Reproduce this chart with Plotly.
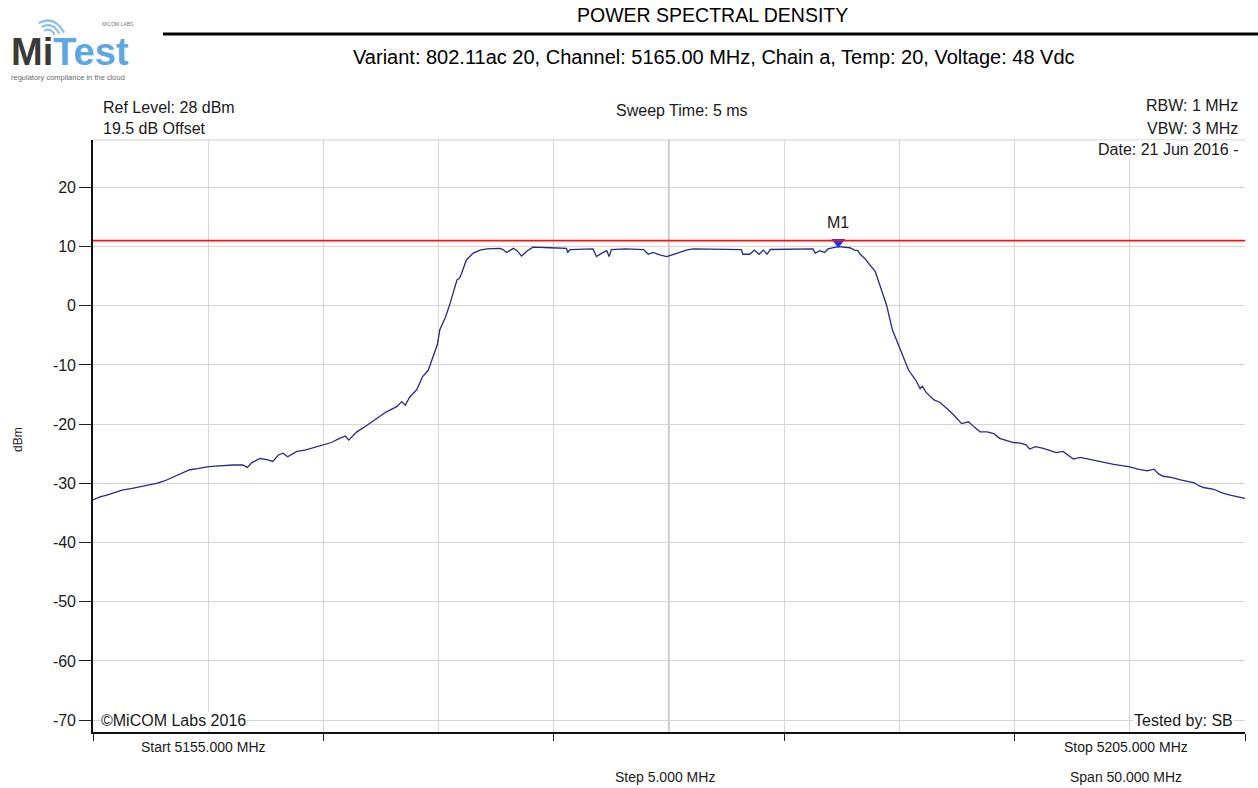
import plotly.graph_objects as go

# Spectrum analyser sweep: frequency (MHz) and measured level (dBm)
freq_mhz = [
    5155.0, 5155.3, 5155.6, 5155.95, 5156.3, 5156.65, 5157.05, 5157.4, 5157.75, 5158.1,
    5158.5, 5158.85, 5159.2, 5159.55, 5159.95, 5160.3, 5160.65, 5161.1, 5161.5, 5161.7,
    5161.9, 5162.25, 5162.55, 5162.8, 5163.05, 5163.25, 5163.45, 5163.65, 5163.85, 5164.2,
    5164.55, 5165.0, 5165.35, 5165.7, 5165.95, 5166.1, 5166.45, 5166.85, 5167.3, 5167.7,
    5168.2, 5168.4, 5168.55, 5168.75, 5169.05, 5169.3, 5169.55, 5169.75, 5169.95, 5170.05,
    5170.3, 5170.5, 5170.65, 5170.8, 5170.9, 5171.0, 5171.2, 5171.5, 5171.8, 5172.1,
    5172.65, 5172.8, 5172.95, 5173.1, 5173.25, 5173.4, 5173.6, 5173.85, 5174.1, 5174.85,
    5175.55, 5175.6, 5175.7, 5176.7, 5176.85, 5177.05, 5177.3, 5177.4, 5177.5, 5178.1,
    5178.9, 5179.1, 5179.3, 5179.6, 5179.9, 5180.2, 5180.5, 5180.75, 5181.05, 5182.2,
    5183.15, 5183.2, 5183.5, 5183.7, 5183.9, 5184.1, 5184.25, 5184.4, 5185.25, 5186.25,
    5186.35, 5186.55, 5186.75, 5186.9, 5187.35, 5187.65, 5187.85, 5188.05, 5188.2, 5188.3,
    5188.5, 5188.7, 5188.95, 5189.15, 5189.45, 5189.7, 5190.05, 5190.25, 5190.4, 5190.7,
    5190.9, 5191.0, 5191.15, 5191.5, 5191.75, 5192.05, 5192.35, 5192.7, 5193.0, 5193.25,
    5193.5, 5193.8, 5194.1, 5194.35, 5194.6, 5194.95, 5195.25, 5195.5, 5195.65, 5195.9,
    5196.25, 5196.55, 5196.8, 5197.1, 5197.3, 5197.55, 5197.85, 5198.2, 5198.55, 5198.95,
    5199.3, 5199.65, 5200.0, 5200.35, 5200.75, 5201.05, 5201.25, 5201.45, 5201.8, 5202.2,
    5202.5, 5202.8, 5203.0, 5203.2, 5203.65, 5204.0, 5204.35, 5204.65, 5204.95, 5205.0,
]
level_dbm = [
    -32.8, -32.3, -32.0, -31.6, -31.1, -30.9, -30.6, -30.3, -30.0, -29.6,
    -28.9, -28.4, -27.7, -27.5, -27.2, -27.1, -27.0, -26.9, -26.9, -27.3,
    -26.5, -25.8, -26.0, -26.3, -25.2, -24.9, -25.5, -25.0, -24.6, -24.4,
    -24.0, -23.5, -23.1, -22.4, -22.0, -22.7, -21.3, -20.3, -19.0, -18.0,
    -17.0, -16.2, -16.8, -15.4, -14.2, -12.0, -10.9, -8.8, -6.5, -4.1,
    -1.9, 0.4, 2.2, 4.4, 4.6, 5.5, 7.7, 8.9, 9.4, 9.6,
    9.7, 9.5, 9.0, 9.3, 9.7, 9.3, 8.4, 9.3, 9.9, 9.8,
    9.7, 9.0, 9.5, 9.6, 8.3, 8.8, 9.3, 8.3, 9.5, 9.6,
    9.5, 8.7, 9.0, 8.6, 8.3, 8.7, 9.1, 9.4, 9.6, 9.6,
    9.5, 8.7, 8.7, 9.4, 8.7, 9.4, 8.7, 9.5, 9.6, 9.6,
    8.9, 9.3, 9.0, 9.6, 10.0, 9.9, 9.8, 9.4, 9.3, 8.7,
    8.0, 7.0, 5.8, 3.5, 0.0, -4.1, -7.5, -9.6, -10.9, -12.5,
    -14.0, -13.6, -14.6, -15.9, -16.3, -17.3, -18.4, -19.9, -19.6, -20.5,
    -21.3, -21.3, -21.6, -22.4, -22.7, -23.1, -23.2, -23.5, -24.2, -23.8,
    -24.1, -24.5, -24.8, -24.6, -25.2, -25.9, -25.6, -25.9, -26.2, -26.5,
    -26.8, -27.0, -27.2, -27.6, -27.9, -27.6, -28.4, -28.8, -29.0, -29.4,
    -29.7, -29.9, -30.4, -30.7, -31.0, -31.6, -32.0, -32.2, -32.5, -32.6,
]

limit_dbm = 11.0
marker_name = "M1"
marker_freq = 5187.35
marker_level = 10.0

start_mhz, stop_mhz = 5155.0, 5205.0
ref_level, bottom_level = 28.0, -72.0
y_tick_vals = [20, 10, 0, -10, -20, -30, -40, -50, -60, -70]
x_tick_vals = [5155, 5165, 5175, 5185, 5195, 5205]

title_text = "POWER SPECTRAL DENSITY"
subtitle_text = "Variant: 802.11ac 20, Channel: 5165.00 MHz, Chain a, Temp: 20, Voltage: 48 Vdc"

# page geometry (pixels)
W, H = 1258, 788
L, R, T, B = 93, 1245, 140, 732
FONT = "Liberation Sans, Arial, sans-serif"


def px(x):
    return (x - L) / (R - L)


def py(y):
    return (B - y) / (B - T)


fig = go.Figure()

fig.add_trace(go.Scatter(
    x=freq_mhz, y=level_dbm, mode="lines",
    line=dict(color="#2a2a80", width=1.3),
    hoverinfo="skip", showlegend=False,
))

# marker triangle sits just above the trace
lift = 0.75
fig.add_trace(go.Scatter(
    x=[marker_freq], y=[marker_level + lift], mode="markers",
    marker=dict(symbol="triangle-down", size=12, color="#1238ff",
                line=dict(width=0)),
    hoverinfo="skip", showlegend=False,
))

shapes = []
# limit line
shapes.append(dict(type="line", xref="paper", yref="y", x0=0, x1=1,
                   y0=limit_dbm, y1=limit_dbm,
                   line=dict(color="#ff1010", width=1.6), layer="above"))
# centre frequency line
shapes.append(dict(type="line", xref="x", yref="paper",
                   x0=(start_mhz + stop_mhz) / 2, x1=(start_mhz + stop_mhz) / 2,
                   y0=0, y1=1, line=dict(color="#a8a8a8", width=1.2), layer="below"))
# top frame of the plot
shapes.append(dict(type="line", xref="paper", yref="paper", x0=0, x1=1, y0=1, y1=1,
                   line=dict(color="#cfcfcf", width=1.2), layer="below"))
# header rule
shapes.append(dict(type="line", xref="paper", yref="paper",
                   x0=px(163), x1=px(1260), y0=py(34), y1=py(34),
                   line=dict(color="#000000", width=3)))


# logo wifi arcs
def arc(cx, cy, r):
    # quadratic approximation of an arc from upper-left to right
    x0, y0 = cx - r * 0.55, cy - r * 0.75
    x2, y2 = cx + r * 0.95, cy - r * 0.2
    qx, qy = cx + r * 0.35, cy - r * 1.25
    return (f"M {px(x0)},{py(y0)} Q {px(qx)},{py(qy)} {px(x2)},{py(y2)}")


for r, w in [(7, 2.2), (12, 2.2), (17, 2.2)]:
    shapes.append(dict(type="path", xref="paper", yref="paper",
                       path=arc(48, 36, r),
                       line=dict(color="#8fc0ea", width=w)))

ann = []


def text(x, y, s, size, anchor="left", color="#1a1a1a", bg=None, family=FONT, **kw):
    d = dict(x=px(x), y=py(y), xref="paper", yref="paper", text=s,
             showarrow=False, xanchor=anchor, yanchor="middle",
             font=dict(family=family, size=size, color=color))
    if bg:
        d["bgcolor"] = bg
        d["borderpad"] = 0
    d.update(kw)
    ann.append(d)


text(712, 15, title_text, 19.5, anchor="center", color="#000000")
text(714, 57, subtitle_text, 20, anchor="center", color="#000000")

text(101, 107, "Ref Level: 28 dBm", 16)
text(101, 128, "19.5 dB Offset", 16)
text(682, 110, "Sweep Time: 5 ms", 16, anchor="center")
text(1240, 106, "RBW: 1 MHz", 16, anchor="right")
text(1240, 128, "VBW: 3 MHz", 16, anchor="right")
text(1240, 149, "Date: 21 Jun 2016 -", 16, anchor="right", bg="#ffffff")
text(100, 720, "©MiCOM Labs 2016", 16, bg="#ffffff")
text(1234, 720, "Tested by: SB", 16, anchor="right", bg="#ffffff")
text(203, 747, "Start 5155.000 MHz", 14, anchor="center")
text(1126, 747, "Stop 5205.000 MHz", 14, anchor="center")
text(665, 777, "Step 5.000 MHz", 14, anchor="center")
text(1126, 777, "Span 50.000 MHz", 14, anchor="center")
text(18, 440, "dBm", 12, anchor="center", textangle=-90)
text(838, 222, marker_name, 16, anchor="center")

# logo
text(9, 52, "<b><span style='color:#3a3a3a'>Mi</span>"
     "<span style='color:#5ea7e2'>Test</span></b>", 38, anchor="left")
text(100, 24, "MICOM LABS", 5, anchor="left", color="#777777")
text(9, 77, "regulatory compliance in the cloud", 7.5, anchor="left", color="#6a6a6a")

fig.update_layout(
    width=W, height=H, autosize=False,
    margin=dict(l=L, r=W - R, t=T, b=H - B, pad=0),
    paper_bgcolor="#ffffff", plot_bgcolor="#ffffff",
    shapes=shapes, annotations=ann, showlegend=False,
    font=dict(family=FONT, color="#1a1a1a"),
)
fig.update_xaxes(
    range=[start_mhz, stop_mhz], tickvals=x_tick_vals, showticklabels=False,
    ticks="outside", ticklen=7, tickcolor="#222222", tickwidth=1.2,
    showgrid=True, gridcolor="#d6d6d6", gridwidth=1.2,
    minor=dict(dtick=5, tick0=5155, showgrid=True, gridcolor="#d6d6d6",
               gridwidth=1.2, ticks=""),
    showline=True, linecolor="#111111", linewidth=1.6, zeroline=False,
    fixedrange=True,
)
fig.update_yaxes(
    range=[bottom_level, ref_level], tickvals=y_tick_vals,
    ticktext=[str(v) for v in y_tick_vals],
    ticks="outside", ticklen=12, tickcolor="#222222", tickwidth=1.2,
    tickfont=dict(family=FONT, size=16, color="#1a1a1a"),
    showgrid=True, gridcolor="#d6d6d6", gridwidth=1.2,
    showline=True, linecolor="#111111", linewidth=1.6, zeroline=False,
    fixedrange=True,
)

fig.write_html("out.html")
